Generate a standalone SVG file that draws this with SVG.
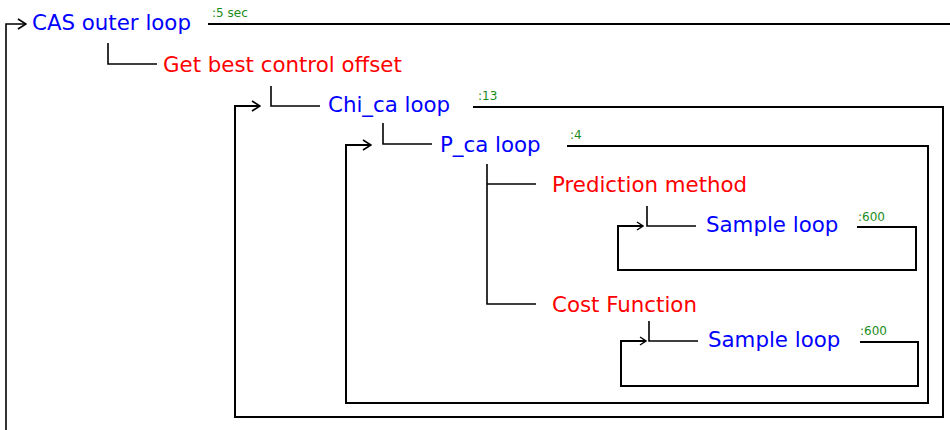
<svg xmlns="http://www.w3.org/2000/svg" width="950" height="430" viewBox="0 0 950 430">
<defs>
<style>
.lbl{font-family:"DejaVu Sans","Liberation Sans",sans-serif;font-size:21.33px}
.loop{fill:#0000ff}
.task{fill:#ff0000}
.cnt{font-family:"DejaVu Sans","Liberation Sans",sans-serif;font-size:12px;fill:#1a8c1a}
.ln{fill:none;stroke:#000;stroke-width:1.6}
.lp{fill:none;stroke:#000;stroke-width:2}
</style>
<marker id="ah" viewBox="0 0 10 12" refX="9" refY="6" markerWidth="10" markerHeight="12" markerUnits="userSpaceOnUse" orient="auto">
<path d="M1,1 L9,6 L1,11" fill="none" stroke="#000" stroke-width="1.6"/>
</marker>
<marker id="ahs" viewBox="0 0 8 10" refX="7" refY="5" markerWidth="8" markerHeight="10" markerUnits="userSpaceOnUse" orient="auto">
<path d="M1,1 L7,5 L1,9" fill="none" stroke="#000" stroke-width="1.4"/>
</marker>
</defs>
<rect width="950" height="430" fill="#fff"/>
<g id="connectors">
<path class="ln" d="M6,432 V24 H26" marker-end="url(#ah)"/>
<path class="lp" d="M208,24 H952"/>
<path class="ln" d="M108,43 V64 H157"/>
<path class="ln" d="M271,86 V106 H320"/>
<path class="lp" d="M473,107 H943 V417 H235 V106 H260" marker-end="url(#ah)"/>
<path class="ln" d="M383,123 V144 H432"/>
<path class="lp" d="M567,146 H928 V403 H346 V145 H371" marker-end="url(#ah)"/>
<path class="ln" d="M487,164 V304 H536"/>
<path class="ln" d="M487,184 H536"/>
<path class="ln" d="M647,206 V226 H696"/>
<path class="lp" d="M857,227 H916 V270 H618 V226 H643" marker-end="url(#ahs)"/>
<path class="ln" d="M649,321 V341 H698"/>
<path class="lp" d="M860,342 H918 V386 H621 V341 H646" marker-end="url(#ahs)"/>
</g>
<g id="cas-outer-loop"><text class="lbl loop" x="32" y="30">CAS outer loop</text><text class="cnt" x="212" y="17">:5 sec</text></g>
<g id="get-best-control-offset"><text class="lbl task" x="163" y="72">Get best control offset</text></g>
<g id="chi-ca-loop"><text class="lbl loop" x="328" y="112">Chi_ca loop</text><text class="cnt" x="478" y="100">:13</text></g>
<g id="p-ca-loop"><text class="lbl loop" x="440" y="152">P_ca loop</text><text class="cnt" x="570" y="139">:4</text></g>
<g id="prediction-method"><text class="lbl task" x="552" y="192">Prediction method</text></g>
<g id="sample-loop-1"><text class="lbl loop" x="706" y="232">Sample loop</text><text class="cnt" x="858" y="221">:600</text></g>
<g id="cost-function"><text class="lbl task" x="552" y="312">Cost Function</text></g>
<g id="sample-loop-2"><text class="lbl loop" x="708" y="347">Sample loop</text><text class="cnt" x="860" y="335">:600</text></g>
</svg>
